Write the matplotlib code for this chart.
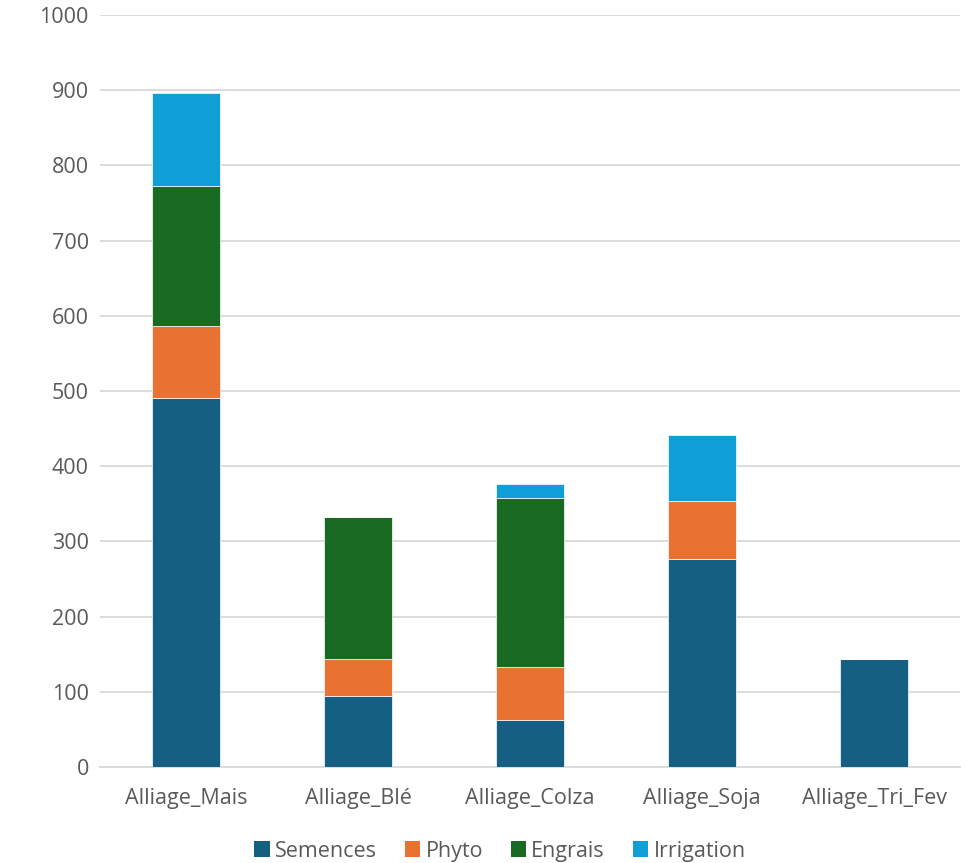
import matplotlib
matplotlib.use("Agg")
import matplotlib.pyplot as plt
import numpy as np
from matplotlib.patches import Patch

plt.rcParams['font.family'] = ['Open Sans', 'DejaVu Sans']

categories = ["Alliage_Mais", "Alliage_Blé", "Alliage_Colza", "Alliage_Soja", "Alliage_Tri_Fev"]
semences = [491, 95, 62, 276, 143]
phyto = [96, 48, 71, 78, 0]
engrais = [185, 189, 225, 0, 0]
irrigation = [124, 0, 18, 87, 0]

series_names = ["Semences", "Phyto", "Engrais", "Irrigation"]
series_colors = ["#156082", "#E97132", "#196B24", "#0F9ED5"]
text_color = "#595959"
grid_color = "#D9D9D9"

fig = plt.figure(figsize=(9.68, 8.63), dpi=100)
ax = fig.add_axes([100 / 968, 96 / 863, 860 / 968, 752 / 863])

x = np.arange(len(categories))
bottom = np.zeros(len(categories))
for name, vals, col in zip(series_names, [semences, phyto, engrais, irrigation], series_colors):
    vals = np.array(vals, dtype=float)
    ax.bar(x, vals, width=0.4, bottom=bottom, color=col, edgecolor="white",
           linewidth=0.5, zorder=3, label=name)
    bottom += vals

ax.set_xlim(-0.5, len(categories) - 0.5)
ax.set_ylim(0, 1000)
ax.set_yticks(np.arange(0, 1001, 100))
ax.set_xticks(x)
ax.set_xticklabels(categories)
ax.yaxis.grid(True, color=grid_color, linewidth=1.3, zorder=0)
ax.set_axisbelow(True)
for s in ["top", "right", "left"]:
    ax.spines[s].set_visible(False)
ax.spines["bottom"].set_color(grid_color)
ax.spines["bottom"].set_linewidth(1.3)
ax.tick_params(axis="both", length=0, labelsize=15.5, colors=text_color)
ax.tick_params(axis="y", pad=8)
ax.tick_params(axis="x", pad=15)

handles = [Patch(facecolor=c, label=n) for n, c in zip(series_names, series_colors)]
fig.legend(handles=handles, loc="center", bbox_to_anchor=(500 / 968, 1 - 851 / 863),
           ncol=4, frameon=False, fontsize=15.5, labelcolor=text_color,
           handlelength=0.7, handleheight=0.7, handletextpad=0.25, columnspacing=1.3)

fig.savefig("out.png", dpi=100, facecolor="white")
